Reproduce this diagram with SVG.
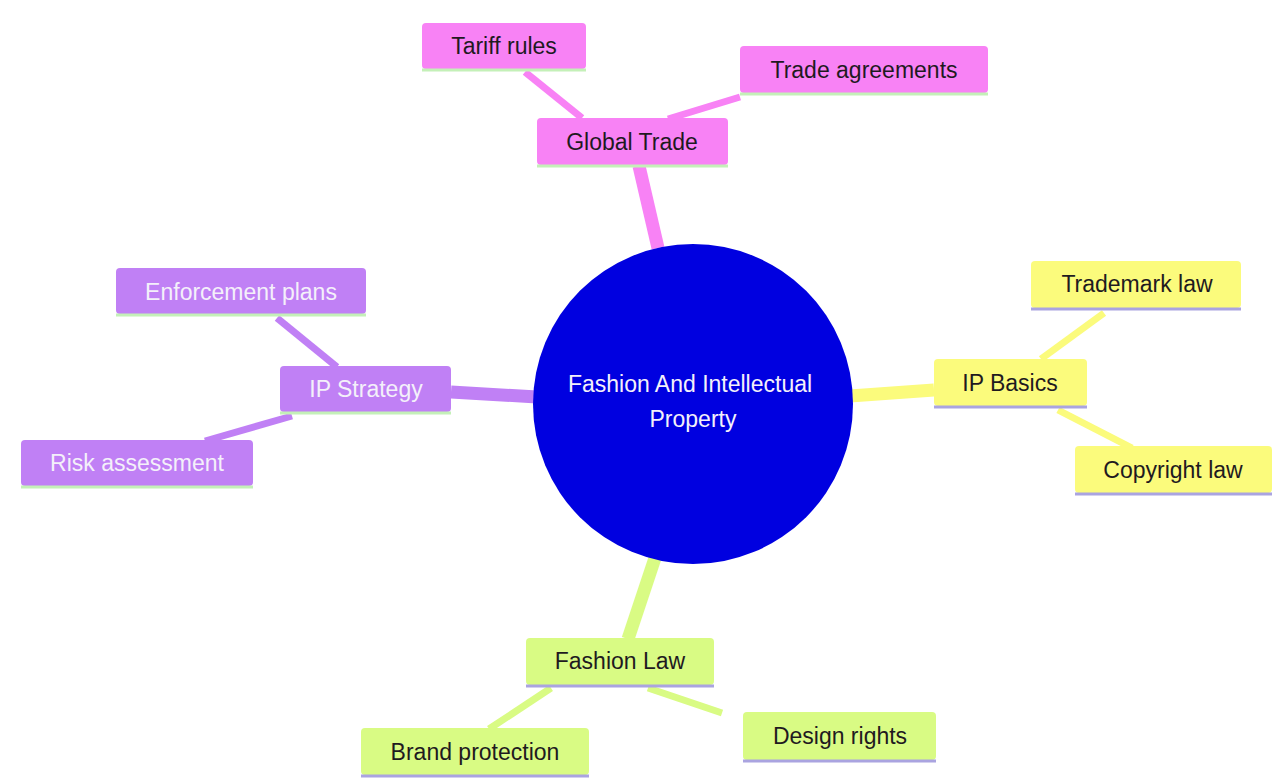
<svg xmlns="http://www.w3.org/2000/svg" width="1274" height="778" viewBox="0 0 1274 778">
<style>
.t{font-family:"Liberation Sans",Arial,sans-serif;font-size:23px;text-anchor:middle;dominant-baseline:central}
.dk{fill:#1f1a1f}
.lt{fill:#f4f0fa}
.pink{fill:#f882f5}
.purp{fill:#c080f5}
.yel{fill:#fbfb7c}
.grn{fill:#d9fb84}
.ulg{stroke:#c4f0b8;stroke-width:3}
.ulv{stroke:#aaa4e0;stroke-width:3}
.c0{stroke-width:13;stroke-linecap:butt;fill:none}
.c1{stroke-width:7;stroke-linecap:butt;fill:none}
</style>
<rect width="1274" height="778" fill="#ffffff"/>
<g id="connectors">
<line class="c0" x1="658" y1="248" x2="639" y2="166" stroke="#f882f5"/>
<line class="c1" x1="525" y1="72" x2="582" y2="118" stroke="#f882f5"/>
<line class="c1" x1="740" y1="97" x2="668" y2="119" stroke="#f882f5"/>
<line class="c0" x1="451" y1="392" x2="537" y2="397" stroke="#c080f5"/>
<line class="c1" x1="277" y1="318" x2="337" y2="367" stroke="#c080f5"/>
<line class="c1" x1="292" y1="416" x2="205" y2="441" stroke="#c080f5"/>
<line class="c0" x1="850" y1="396" x2="934" y2="390" stroke="#fbfb7c"/>
<line class="c1" x1="1104" y1="313" x2="1041" y2="359" stroke="#fbfb7c"/>
<line class="c1" x1="1058" y1="410" x2="1132" y2="448" stroke="#fbfb7c"/>
<line class="c0" x1="655" y1="558" x2="628" y2="639" stroke="#d9fb84"/>
<line class="c1" x1="551" y1="688" x2="489" y2="729" stroke="#d9fb84"/>
<line class="c1" x1="648" y1="688" x2="722" y2="713" stroke="#d9fb84"/>
</g>
<g id="root">
<circle cx="693" cy="404" r="160" fill="#0000e0"/>
<text class="t lt" x="690" y="384">Fashion And Intellectual</text>
<text class="t lt" x="693" y="419">Property</text>
</g>
<g id="global-trade">
<rect class="pink" x="537" y="118" width="191" height="47" rx="4"/>
<line class="ulg" x1="537" y1="166" x2="728" y2="166"/>
<text class="t dk" x="632" y="142">Global Trade</text>
</g>
<g id="tariff-rules">
<rect class="pink" x="422" y="23" width="164" height="46" rx="4"/>
<line class="ulg" x1="422" y1="70" x2="586" y2="70"/>
<text class="t dk" x="504" y="46">Tariff rules</text>
</g>
<g id="trade-agreements">
<rect class="pink" x="740" y="46" width="248" height="47" rx="4"/>
<line class="ulg" x1="740" y1="94" x2="988" y2="94"/>
<text class="t dk" x="864" y="70">Trade agreements</text>
</g>
<g id="ip-strategy">
<rect class="purp" x="280" y="366" width="171" height="46" rx="4"/>
<line class="ulg" x1="280" y1="413" x2="451" y2="413"/>
<text class="t lt" x="366" y="389">IP Strategy</text>
</g>
<g id="enforcement-plans">
<rect class="purp" x="116" y="268" width="250" height="46" rx="4"/>
<line class="ulg" x1="116" y1="315" x2="366" y2="315"/>
<text class="t lt" x="241" y="292">Enforcement plans</text>
</g>
<g id="risk-assessment">
<rect class="purp" x="21" y="440" width="232" height="46" rx="4"/>
<line class="ulg" x1="21" y1="487" x2="253" y2="487"/>
<text class="t lt" x="137" y="463">Risk assessment</text>
</g>
<g id="ip-basics">
<rect class="yel" x="934" y="359" width="153" height="47" rx="4"/>
<line class="ulv" x1="934" y1="407" x2="1087" y2="407"/>
<text class="t dk" x="1010" y="383">IP Basics</text>
</g>
<g id="trademark-law">
<rect class="yel" x="1031" y="261" width="210" height="47" rx="4"/>
<line class="ulv" x1="1031" y1="309" x2="1241" y2="309"/>
<text class="t dk" x="1137" y="284">Trademark law</text>
</g>
<g id="copyright-law">
<rect class="yel" x="1075" y="446" width="197" height="47" rx="4"/>
<line class="ulv" x1="1075" y1="494" x2="1272" y2="494"/>
<text class="t dk" x="1173" y="470">Copyright law</text>
</g>
<g id="fashion-law">
<rect class="grn" x="526" y="638" width="188" height="47" rx="4"/>
<line class="ulv" x1="526" y1="686" x2="714" y2="686"/>
<text class="t dk" x="620" y="661">Fashion Law</text>
</g>
<g id="brand-protection">
<rect class="grn" x="361" y="728" width="228" height="47" rx="4"/>
<line class="ulv" x1="361" y1="776" x2="589" y2="776"/>
<text class="t dk" x="475" y="752">Brand protection</text>
</g>
<g id="design-rights">
<rect class="grn" x="743" y="712" width="193" height="48" rx="4"/>
<line class="ulv" x1="743" y1="761" x2="936" y2="761"/>
<text class="t dk" x="840" y="736">Design rights</text>
</g>
</svg>
